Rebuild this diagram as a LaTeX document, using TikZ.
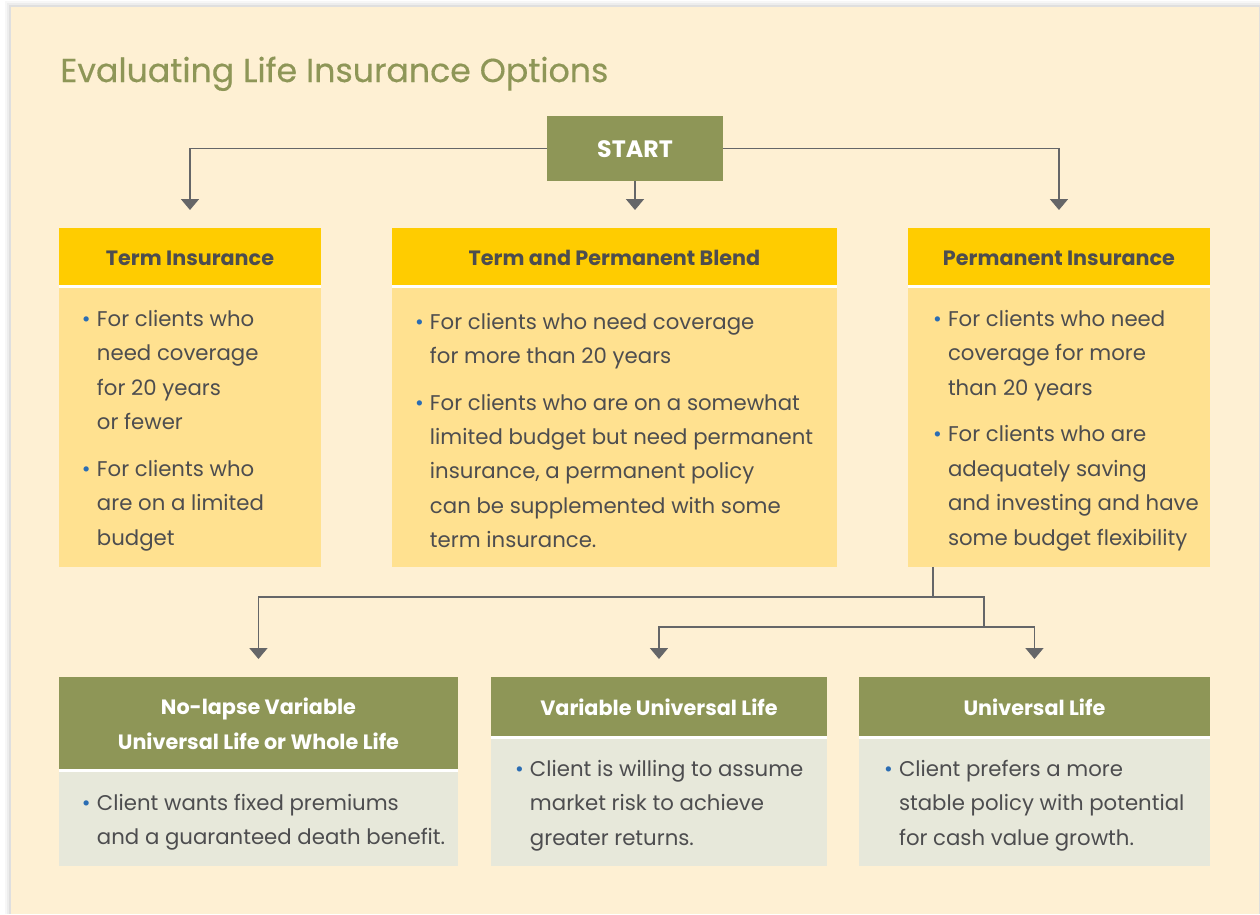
\documentclass[tikz,border=0pt]{standalone}
\usepackage{fontspec}
\setmainfont{Poppins}
\newfontfamily\titlefont{Poppins}[FakeBold=0.4]
\usepackage{xcolor}
\usetikzlibrary{arrows.meta}

\definecolor{olive}{HTML}{8E9657}
\definecolor{cream}{HTML}{FEF0D3}
\definecolor{gold}{HTML}{FFCC00}
\definecolor{paleyellow}{HTML}{FFE190}
\definecolor{sage}{HTML}{E7E8DA}
\definecolor{ink}{HTML}{4D4D4F}
\definecolor{wire}{HTML}{656668}
\definecolor{dotblue}{HTML}{2B6DB3}

% bullet and hanging indent for the item lists
\newcommand{\blt}{\makebox[0.3cm][l]{\textcolor{dotblue}{\textbullet}}}
\newcommand{\ind}{\hspace*{0.3cm}}

\tikzset{
  box/.style={rectangle, inner sep=0pt, outer sep=0pt, anchor=north west, align=center},
  gold head/.style={box, fill=gold, text=ink, text height=10.4pt, text depth=0pt, font=\bfseries\fontsize{11.8}{19.4}\selectfont},
  olive head/.style={box, fill=olive, text=white, text height=10.4pt, text depth=0pt, font=\bfseries\fontsize{11.8}{19.4}\selectfont},
  yellow body/.style={box, fill=paleyellow},
  sage body/.style={box, fill=sage},
  items/.style={inner sep=0pt, outer sep=0pt, anchor=west, yshift=-0.06cm, align=left, text=ink, font=\fontsize{12.1}{19.6}\selectfont},
  wire/.style={draw=wire, line width=0.035cm},
  arrowdown/.style={wire, -{Triangle[width=0.36cm,length=0.22cm]}, shorten >=0.36cm},
}

\begin{document}
\begin{tikzpicture}[x=0.02cm, y=-0.02cm]
  \useasboundingbox (0,0) rectangle (1260,914);
  \fill[white] (0,0) rectangle (1260,914);
  % panel with a soft edge
  \foreach \d/\o in {6/0.03, 4/0.04, 2/0.06}
    \fill[black, opacity=\o] (11-\d,7-\d) rectangle (1260,914);
  \fill[cream] (11,7) rectangle (1259,914);

  \node[anchor=base west, inner sep=0pt, text=olive, font=\titlefont\fontsize{18.9}{22}\selectfont] (title) at (60,82) {Evaluating Life Insurance Options};

  \node[olive head, minimum width=3.52cm, minimum height=1.3cm, font=\bfseries\fontsize{13.5}{16}\selectfont] (start) at (547,116) {START};

  % first row
  \node[gold head, minimum width=5.24cm, minimum height=1.14cm] (term) at (59,228) {Term Insurance};
  \node[gold head, minimum width=8.9cm, minimum height=1.14cm] (blend) at (392,228) {Term and Permanent Blend};
  \node[gold head, minimum width=6.04cm, minimum height=1.14cm] (perm) at (908,228) {Permanent Insurance};
  \node[yellow body, minimum width=5.24cm, minimum height=5.58cm] (termb) at (59,288) {};
  \node[yellow body, minimum width=8.9cm, minimum height=5.58cm] (blendb) at (392,288) {};
  \node[yellow body, minimum width=6.04cm, minimum height=5.58cm] (permb) at (908,288) {};

  % second row
  \node[olive head, minimum width=7.98cm, minimum height=1.84cm, text height=29.6pt] (nolapse) at (59,677) {No-lapse Variable\\Universal Life or Whole Life};
  \node[olive head, minimum width=6.72cm, minimum height=1.18cm] (vul) at (491,677) {Variable Universal Life};
  \node[olive head, minimum width=7.02cm, minimum height=1.18cm] (ul) at (859,677) {Universal Life};
  \node[sage body, minimum width=7.98cm, minimum height=1.88cm] (nolapseb) at (59,772) {};
  \node[sage body, minimum width=6.72cm, minimum height=2.54cm] (vulb) at (491,739) {};
  \node[sage body, minimum width=7.02cm, minimum height=2.54cm] (ulb) at (859,739) {};

  \foreach \h/\b in {term/termb, blend/blendb, perm/permb, nolapse/nolapseb, vul/vulb, ul/ulb}
    \fill[white] (\h.south west) rectangle (\b.north east);

  \node[items] (termtxt) at ([xshift=0.46cm]termb.west) {\blt For clients who\\ \ind need coverage\\ \ind for 20 years\\ \ind or fewer\\[0.24cm] \blt For clients who\\ \ind are on a limited\\ \ind budget};
  \node[items] (blendtxt) at ([xshift=0.46cm]blendb.west) {\blt For clients who need coverage\\ \ind for more than 20 years\\[0.24cm] \blt For clients who are on a somewhat\\ \ind limited budget but need permanent\\ \ind insurance, a permanent policy\\ \ind can be supplemented with some\\ \ind term insurance.};
  \node[items] (permtxt) at ([xshift=0.5cm]permb.west) {\blt For clients who need\\ \ind coverage for more\\ \ind than 20 years\\[0.24cm] \blt For clients who are\\ \ind adequately saving\\ \ind and investing and have\\ \ind some budget flexibility};
  \node[items] (nolapsetxt) at ([xshift=0.46cm]nolapseb.west) {\blt Client wants fixed premiums\\ \ind and a guaranteed death benefit.};
  \node[items] (vultxt) at ([xshift=0.48cm]vulb.west) {\blt Client is willing to assume\\ \ind market risk to achieve\\ \ind greater returns.};
  \node[items] (ultxt) at ([xshift=0.5cm]ulb.west) {\blt Client prefers a more\\ \ind stable policy with potential\\ \ind for cash value growth.};

  % connectors
  \draw[arrowdown] (start.west) -| (term.north);
  \draw[arrowdown] (start.south) -- (start.south |- blend.north);
  \draw[arrowdown] (start.east) -| (perm.north);

  \coordinate (drop) at (933,597);
  \coordinate (fork) at (984,627);
  \draw[wire] (permb.south -| drop) -- (drop) -| (fork);
  \draw[arrowdown] (drop) -| (nolapse.north);
  \draw[arrowdown] (fork) -| (vul.north);
  \draw[arrowdown] (fork) -| (ul.north);
\end{tikzpicture}
\end{document}
